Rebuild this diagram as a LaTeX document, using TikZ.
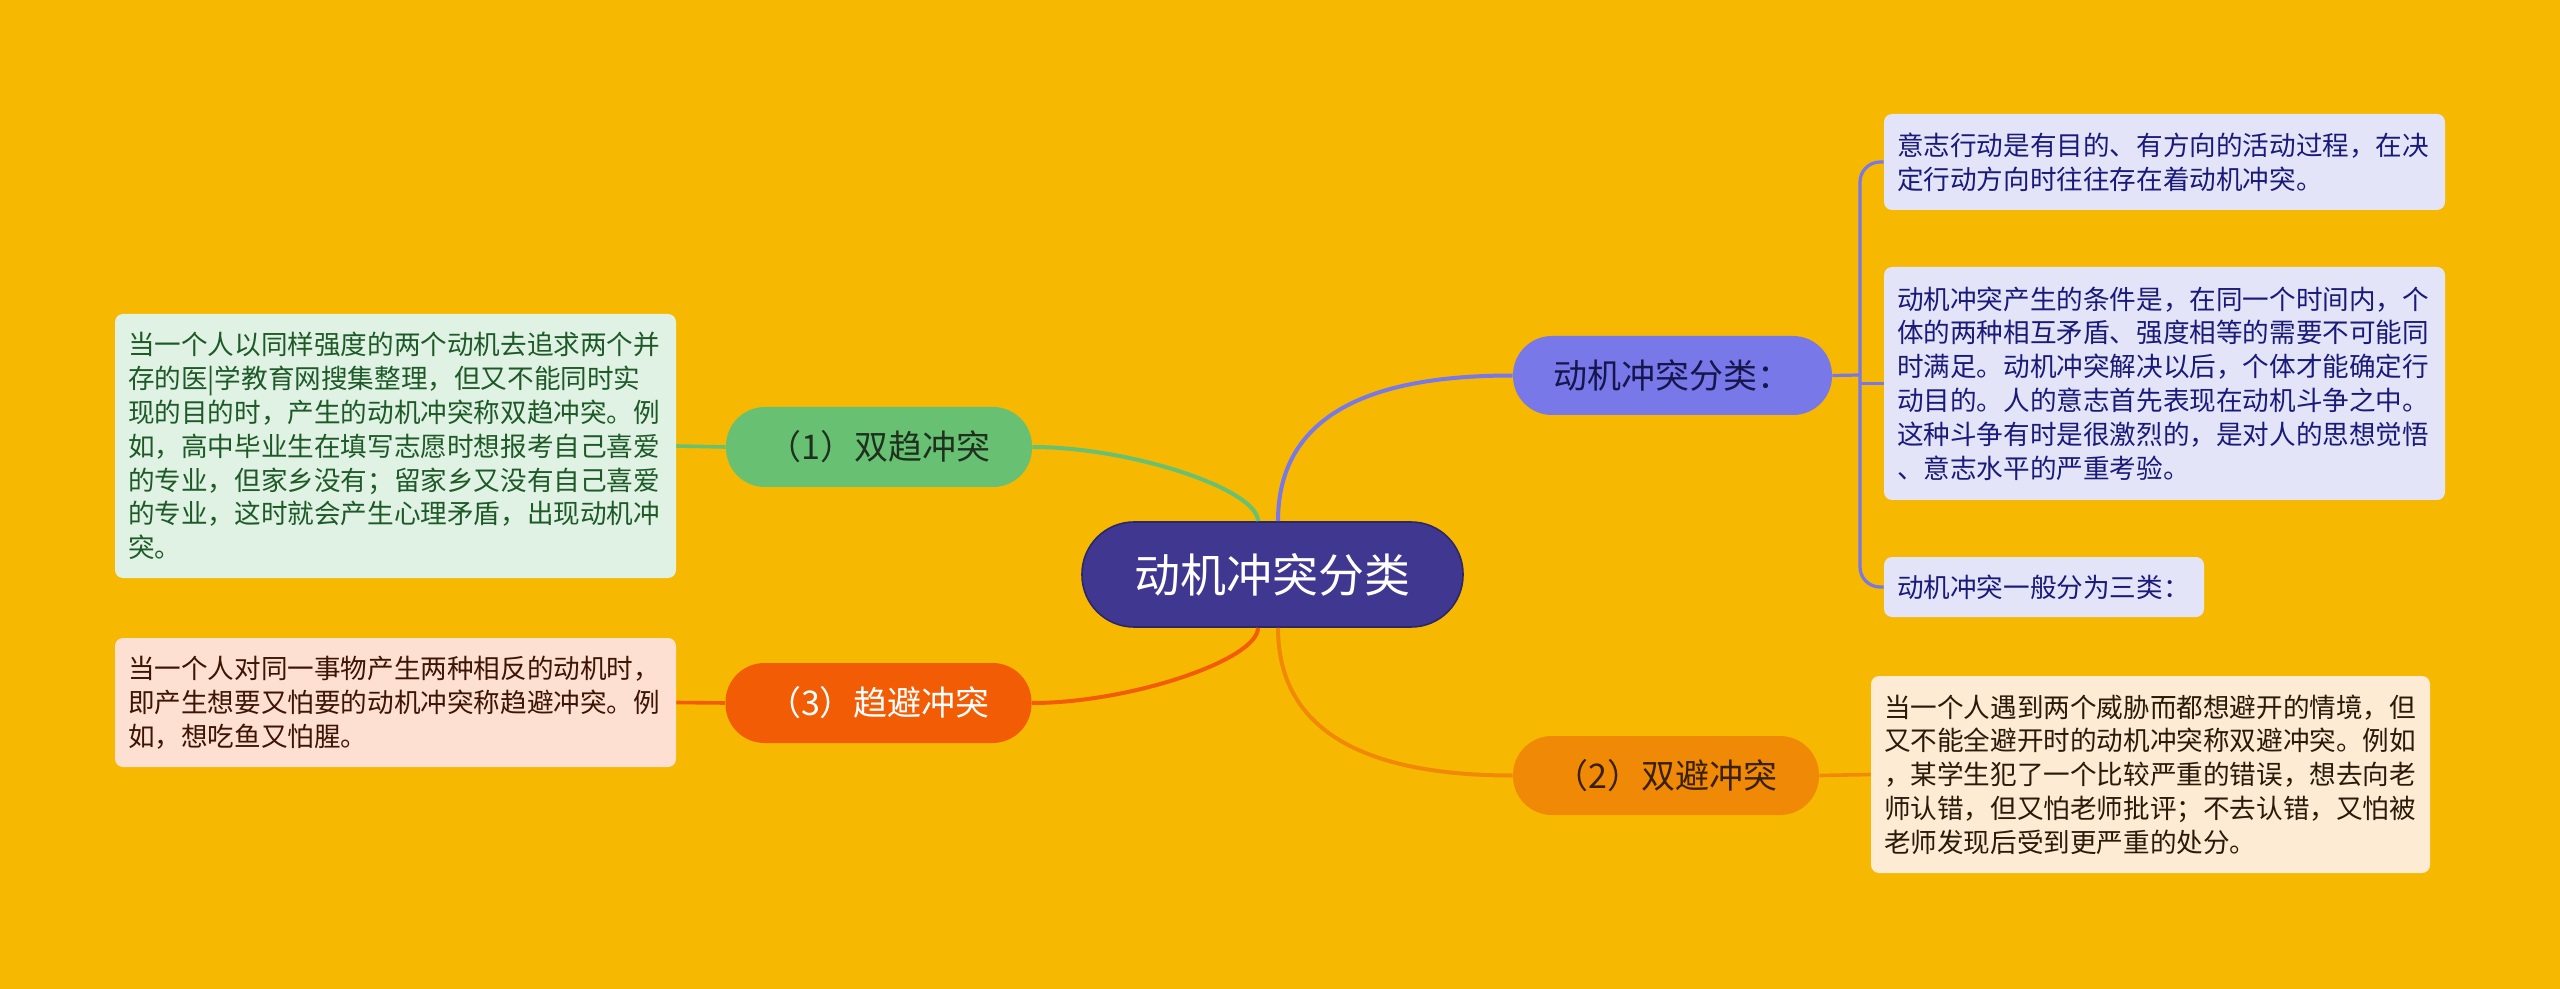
\documentclass[tikz,border=0pt]{standalone}
\usepackage{fontspec}
\newfontfamily\cjk{Noto Sans CJK SC}
\definecolor{bg}{HTML}{F6B800}
\definecolor{centerfill}{HTML}{3F3790}
\definecolor{centerline}{HTML}{2C2768}
\definecolor{bluemid}{HTML}{7878E8}
\definecolor{blueleaf}{HTML}{E4E4F8}
\definecolor{bluetext}{HTML}{1A1A7A}
\definecolor{bluemidtext}{HTML}{16164E}
\definecolor{greenmid}{HTML}{68C172}
\definecolor{greenleaf}{HTML}{E0F2E4}
\definecolor{greentext}{HTML}{1E5A28}
\definecolor{greenmidtext}{HTML}{1E301E}
\definecolor{redmid}{HTML}{F25C05}
\definecolor{redleaf}{HTML}{FDE0D2}
\definecolor{redtext}{HTML}{3D1405}
\definecolor{orangemid}{HTML}{F08A06}
\definecolor{orangeleaf}{HTML}{FDEBD3}
\definecolor{orangetext}{HTML}{2A1A0A}
\definecolor{orangemidtext}{HTML}{3A2000}
\tikzset{
  leafbox/.style={rounded corners=4pt, inner xsep=6.5pt, inner ysep=0pt, align=left,
    font=\cjk\fontsize{13.3}{16.9}\selectfont, anchor=center},
  midbox/.style={rounded corners=19.5pt, minimum width=153pt, minimum height=40pt,
    inner sep=0pt, font=\cjk\fontsize{17}{20}\selectfont, anchor=center},
  centerbox/.style={rounded corners=26pt, minimum width=190.5pt, minimum height=52.5pt,
    inner sep=0pt, fill=centerfill, draw=centerline, line width=0.8pt, text=white,
    font=\cjk\fontsize{23}{26}\selectfont, anchor=center},
  link/.style={line width=2pt},
  bracket/.style={line width=1.6pt, color=bluemid}
}
\begin{document}
\begin{tikzpicture}[x=0.5pt,y=-0.5pt]
\fill[bg] (0,0) rectangle (2560,989);
\useasboundingbox (0,0) rectangle (2560,989);

% central
\node[centerbox] (c) at (1272.5,574.5) {动机冲突分类};

% mid level
\node[midbox, fill=bluemid, text=bluemidtext, minimum width=159.5pt, minimum height=39.5pt] (b) at (1672.5,375.5) {动机冲突分类：};
\node[midbox, fill=greenmid, text=greenmidtext] (g) at (879,447) {（1）双趋冲突};
\node[midbox, fill=redmid, text=white] (r) at (878.5,703) {（3）趋避冲突};
\node[midbox, fill=orangemid, text=orangemidtext, minimum height=39.5pt] (o) at (1666,775.5) {（2）双避冲突};

% leaves
\node[leafbox, fill=blueleaf, text=bluetext, text width=267.5pt, minimum height=48pt] (l1) at (2164.5,162)
  {意志行动是有目的、有方向的活动过程，在决\\定行动方向时往往存在着动机冲突。};
\node[leafbox, fill=blueleaf, text=bluetext, text width=267.5pt, minimum height=116.5pt] (l2) at (2164.5,383.5)
  {动机冲突产生的条件是，在同一个时间内，个\\体的两种相互矛盾、强度相等的需要不可能同\\时满足。动机冲突解决以后，个体才能确定行\\动目的。人的意志首先表现在动机斗争之中。\\这种斗争有时是很激烈的，是对人的思想觉悟\\、意志水平的严重考验。};
\node[leafbox, fill=blueleaf, text=bluetext, text width=147pt, minimum height=30pt] (l3) at (2044,587)
  {动机冲突一般分为三类：};
\node[leafbox, fill=greenleaf, text=greentext, text width=267.5pt, minimum height=132pt] (gl) at (395.5,446)
  {当一个人以同样强度的两个动机去追求两个并\\存的医|学教育网搜集整理，但又不能同时实\\现的目的时，产生的动机冲突称双趋冲突。例\\如，高中毕业生在填写志愿时想报考自己喜爱\\的专业，但家乡没有；留家乡又没有自己喜爱\\的专业，这时就会产生心理矛盾，出现动机冲\\突。};
\node[leafbox, fill=redleaf, text=redtext, text width=267.5pt, minimum height=64.5pt] (rl) at (395.5,702.5)
  {当一个人对同一事物产生两种相反的动机时，\\即产生想要又怕要的动机冲突称趋避冲突。例\\如，想吃鱼又怕腥。};
\node[leafbox, fill=orangeleaf, text=orangetext, text width=266.5pt, minimum height=98.5pt] (ol) at (2150.5,774.5)
  {当一个人遇到两个威胁而都想避开的情境，但\\又不能全避开时的动机冲突称双避冲突。例如\\，某学生犯了一个比较严重的错误，想去向老\\师认错，但又怕老师批评；不去认错，又怕被\\老师发现后受到更严重的处分。};

% connectors from center
\draw[link, greenmid] ([xshift=-7.25pt]c.north) .. controls +(0,-32) and +(98,0) .. (g.east);
\draw[link, bluemid] ([xshift=2.75pt]c.north) .. controls +(0,-122) and +(-113,0) .. (b.west);
\draw[link, redmid] ([xshift=-7.25pt]c.south) .. controls +(0,32) and +(98,0) .. (r.east);
\draw[link, orangemid] ([xshift=2.75pt]c.south) .. controls +(0,122) and +(-113,0) .. (o.west);

% connectors to leaves
\draw[link, greenmid, line width=1.8pt] (g.west) -- (gl.east);
\draw[link, redmid, line width=1.8pt] (r.west) -- (rl.east);
\draw[link, orangemid, line width=1.8pt] (o.east) -- (ol.west);

% bracket
\coordinate (bx) at (1860,375);
\draw[bracket] (b.east) -- (bx);
\draw[bracket, rounded corners=10pt] (l1.west) -- (l1.west -| bx) -- (l3.west -| bx) -- (l3.west);
\draw[bracket] (l2.west -| bx) -- (l2.west);
\end{tikzpicture}
\end{document}
